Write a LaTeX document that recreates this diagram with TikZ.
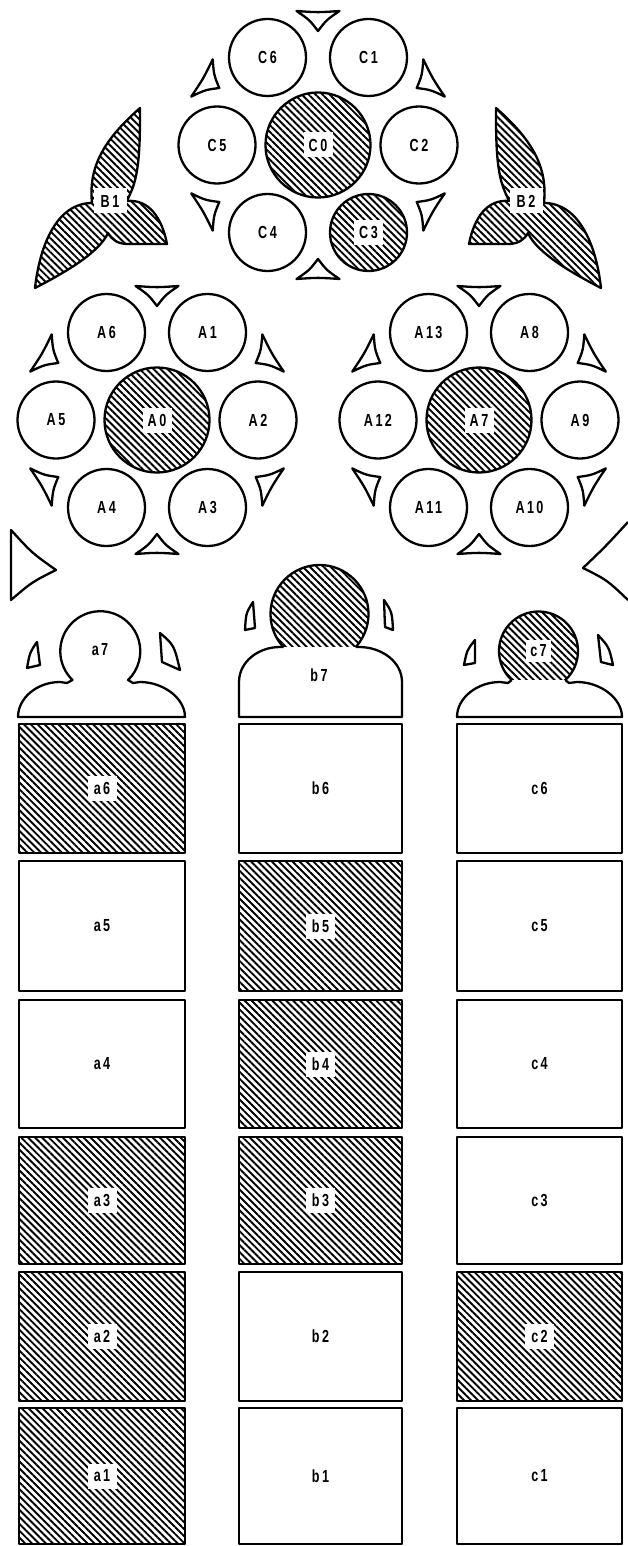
\documentclass[tikz,border=0pt]{standalone}
\usepackage{fontspec}
\newfontfamily\lblfont[FakeStretch=0.72,LetterSpace=14]{Liberation Sans}
\usetikzlibrary{patterns.meta}
\tikzset{
  ol/.style={draw=black,line width=2.3pt,line join=round},
  lbl/.style={font=\lblfont\bfseries\fontsize{17.5}{17.5}\selectfont,text=black},
  hatch/.style={pattern={Lines[angle=-45,distance=4.9pt,line width=1.9pt]}},
  circ/.style={ol,lbl,circle,inner sep=0pt,minimum size=77pt},
  hub/.style={circ,minimum size=105pt},
  box/.style={ol,lbl,rectangle,inner sep=0pt},
  acol/.style={box,minimum width=166pt},
  bcol/.style={box,minimum width=163pt},
  ccol/.style={box,minimum width=165pt},
  hlab/.style={lbl,fill=white,inner sep=0pt,minimum width=29pt,minimum height=25pt},
  plab/.style={lbl,inner sep=0pt},
}
\newcommand\mytri[3]{\draw[ol,shift={(#1,#2)},shift={(-#3:127)},rotate=#3] (7,-21.5) .. controls (-1.8,-8.6) .. (-13,0) .. controls (-1.8,8.6) .. (7,21.5) .. controls (5.5,0) .. (7,-21.5) -- cycle;}
\newcommand\spandrel{(140,108) .. controls (140,140) and (140,172) .. (131,192) -- (127,201) .. controls (149,199) and (162,218) .. (167,244) -- (128,244) .. controls (118,244) and (112,240) .. (108,233) .. controls (99,253) and (64,273) .. (35,288) .. controls (40,243) and (58,203) .. (92,203) .. controls (88,165) and (106,138) .. (140,108) -- cycle}
\begin{document}
\begin{tikzpicture}[x=1pt,y=-1pt]
\useasboundingbox (0,0) rectangle (628,1546);
% ---------- C rose ----------
\node[hub,hatch] (C0) at (318,145) {};
\node[hlab] (C0t) at (C0) {C0};
\node[circ] (C1) at (368.5,57.5) {C1};
\node[circ] (C2) at (419,145) {C2};
\node[circ,hatch] (C3) at (368.5,232.5) {};
\node[hlab] (C3t) at (C3) {C3};
\node[circ] (C4) at (267.5,232.5) {C4};
\node[circ] (C5) at (217,145) {C5};
\node[circ] (C6) at (267.5,57.5) {C6};
\foreach \a in {30,90,150,210,270,330} {\mytri{318}{145}{\a}}
% ---------- spandrels ----------
\draw[ol,hatch] \spandrel;
\node[hlab,minimum width=33pt] (B1) at (110,201) {B1};
\begin{scope}[xshift=636pt,xscale=-1]
\draw[ol,hatch] \spandrel;
\end{scope}
\node[hlab,minimum width=33pt] (B2) at (526,201) {B2};
% ---------- A rose ----------
\node[hub,hatch] (A0) at (157,420) {};
\node[hlab] (A0t) at (A0) {A0};
\node[circ] (A1) at (207.5,332.5) {A1};
\node[circ] (A2) at (258,420) {A2};
\node[circ] (A3) at (207.5,507.5) {A3};
\node[circ] (A4) at (106.5,507.5) {A4};
\node[circ] (A5) at (56,420) {A5};
\node[circ] (A6) at (106.5,332.5) {A6};
\foreach \a in {30,90,150,210,270,330} {\mytri{157}{420}{\a}}
% ---------- A7 rose ----------
\node[hub,hatch] (A7) at (479,420) {};
\node[hlab] (A7t) at (A7) {A7};
\node[circ] (A8) at (529.5,332.5) {A8};
\node[circ] (A9) at (580,420) {A9};
\node[circ] (A10) at (529.5,507.5) {A10};
\node[circ] (A11) at (428.5,507.5) {A11};
\node[circ] (A12) at (378,420) {A12};
\node[circ] (A13) at (428.5,332.5) {A13};
\foreach \a in {30,90,150,210,270,330} {\mytri{479}{420}{\a}}
% ---------- big side triangles ----------
\draw[ol] (11,530) .. controls (32,553) .. (56,570) .. controls (32,582) .. (11,600) -- cycle;
\draw[ol] (628,522) .. controls (606,546) .. (583,568) .. controls (607,580) .. (628,600);
% ---------- a7 ----------
\draw[ol] (18,717) .. controls (18,698) and (37,682) .. (60,682) -- (67,683) -- (72.5,680) arc[start angle=134,end angle=406,radius=40] -- (133,683) -- (140,682) .. controls (163,682) and (185,698) .. (185,717) -- cycle;
\node[plab] (a7) at (100,650) {a7};
\draw[ol] (37,642) .. controls (30,652) .. (27,668) -- (40,665) -- cycle;
\draw[ol] (160,633) .. controls (174,645) .. (180,670) -- (162,662) -- cycle;
% ---------- b7 ----------
\node[circ,hatch,minimum size=98pt] (b7h) at (319.5,614) {};
\fill[white] (239,717) -- (239,682) .. controls (239,662) and (258,647) .. (280,647) -- (359,647) .. controls (382,647) and (402,662) .. (402,682) -- (402,717) -- cycle;
\draw[ol] (283.5,647) -- (280,647) .. controls (258,647) and (239,662) .. (239,682) -- (239,717) -- (402,717) -- (402,682) .. controls (402,662) and (382,647) .. (359,647) -- (355.5,647);
\node[plab] (b7) at (319,675) {b7};
\draw[ol] (253,602) .. controls (246,613) .. (245,630) -- (255,628) -- cycle;
\draw[ol] (384,600) .. controls (392,612) .. (393,630) -- (385,627) -- cycle;
% ---------- c7 ----------
\node[circ,hatch,minimum size=79pt] (c7h) at (538.5,651) {};
\fill[white] (457,717) .. controls (457,698) and (477,682) .. (500,682) -- (508,683) -- (511.7,680) -- (565.3,680) -- (569,683) -- (577,682) .. controls (600,682) and (622,698) .. (622,717) -- cycle;
\draw[ol] (511.7,680) -- (508,683) -- (500,682) .. controls (477,682) and (457,698) .. (457,717) -- (622,717) .. controls (622,698) and (600,682) .. (577,682) -- (569,683) -- (565.3,680);
\node[hlab,minimum width=25pt,minimum height=22pt] (c7) at (c7h) {c7};
\draw[ol] (475,640) .. controls (467,650) .. (464,665) -- (475,663) -- cycle;
\draw[ol] (598,635) .. controls (609,647) .. (613,665) -- (601,662) -- cycle;
% ---------- column a ----------
\node[acol,hatch,minimum height=129pt] (a6) at (102,788.5) {};
\node[hlab] (a6t) at (a6) {a6};
\node[acol,minimum height=130pt] (a5) at (102,926) {a5};
\node[acol,minimum height=128pt] (a4) at (102,1064) {a4};
\node[acol,hatch,minimum height=127pt] (a3) at (102,1200.5) {};
\node[hlab] (a3t) at (a3) {a3};
\node[acol,hatch,minimum height=129pt] (a2) at (102,1336.5) {};
\node[hlab] (a2t) at (a2) {a2};
\node[acol,hatch,minimum height=136pt] (a1) at (102,1476) {};
\node[hlab] (a1t) at (a1) {a1};
% ---------- column b ----------
\node[bcol,minimum height=129pt] (b6) at (320.5,788.5) {b6};
\node[bcol,hatch,minimum height=130pt] (b5) at (320.5,926) {};
\node[hlab] (b5t) at (b5) {b5};
\node[bcol,hatch,minimum height=128pt] (b4) at (320.5,1064) {};
\node[hlab] (b4t) at (b4) {b4};
\node[bcol,hatch,minimum height=127pt] (b3) at (320.5,1200.5) {};
\node[hlab] (b3t) at (b3) {b3};
\node[bcol,minimum height=129pt] (b2) at (320.5,1336.5) {b2};
\node[bcol,minimum height=136pt] (b1) at (320.5,1476) {b1};
% ---------- column c ----------
\node[ccol,minimum height=129pt] (c6) at (539.5,788.5) {c6};
\node[ccol,minimum height=130pt] (c5) at (539.5,926) {c5};
\node[ccol,minimum height=128pt] (c4) at (539.5,1064) {c4};
\node[ccol,minimum height=127pt] (c3) at (539.5,1200.5) {c3};
\node[ccol,hatch,minimum height=129pt] (c2) at (539.5,1336.5) {};
\node[hlab] (c2t) at (c2) {c2};
\node[ccol,minimum height=136pt] (c1) at (539.5,1476) {c1};
\end{tikzpicture}
\end{document}
